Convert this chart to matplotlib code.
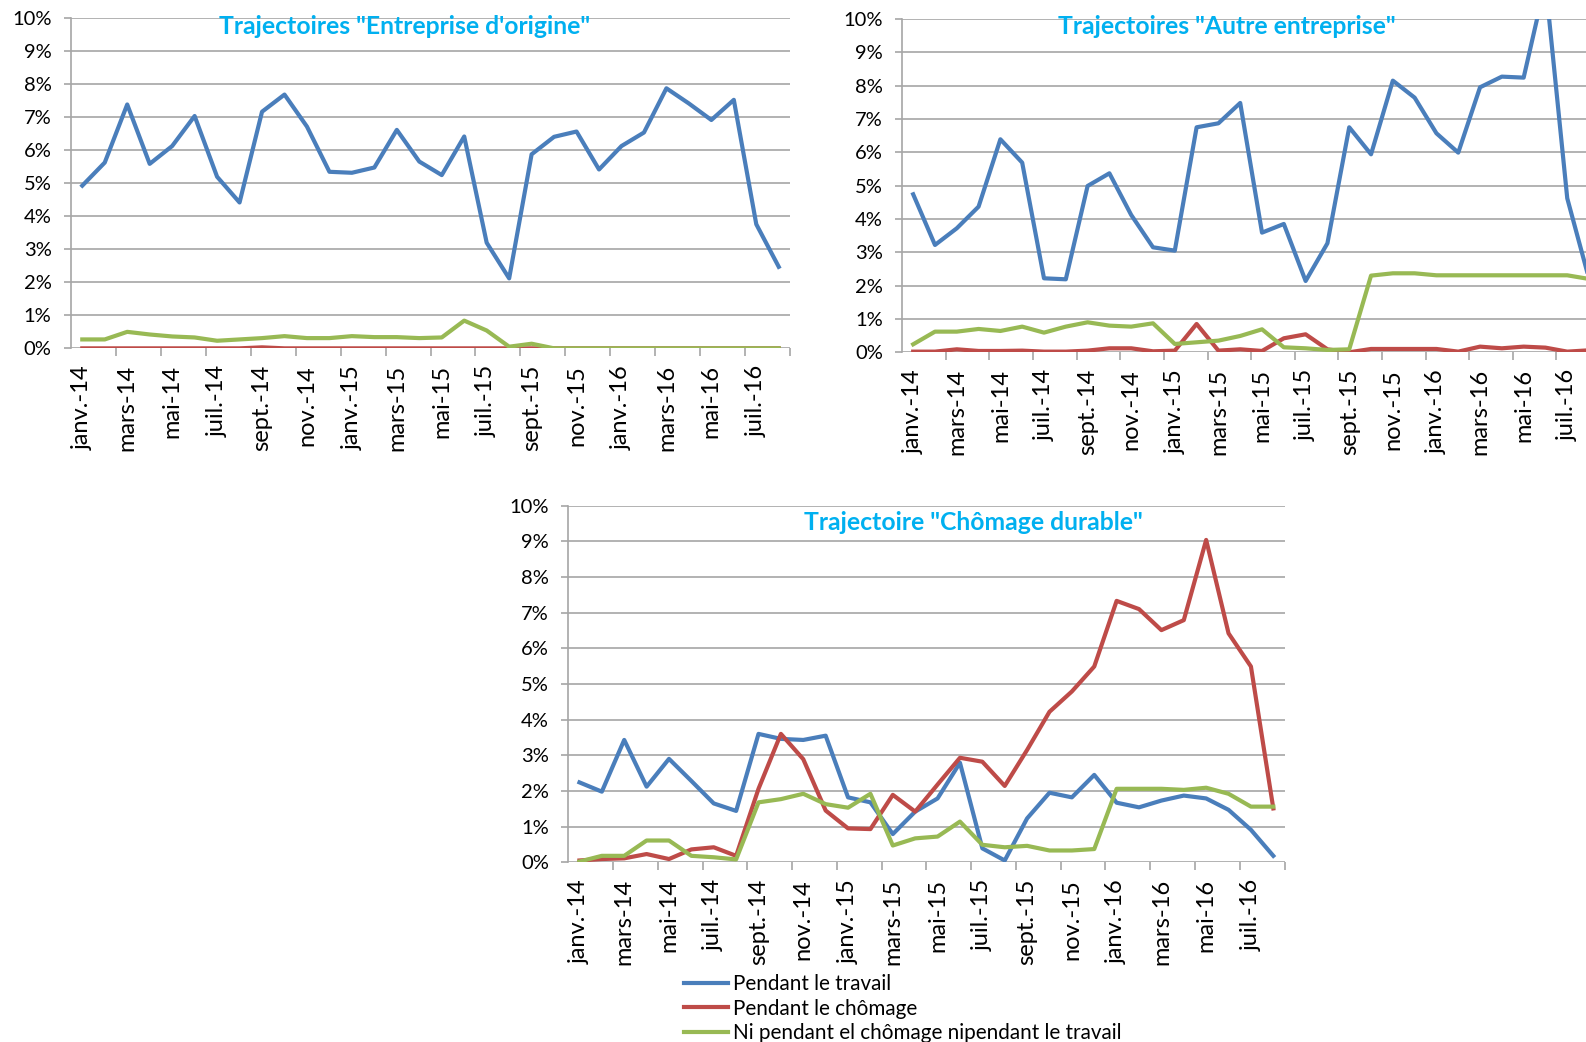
import numpy as np
import matplotlib
matplotlib.use("Agg")
import matplotlib.pyplot as plt
from matplotlib.ticker import FuncFormatter

plt.rcParams['font.family'] = ['Lato', 'DejaVu Sans']

# monthly values in %, janv.-14 .. août-16
orig_travail = [4.93, 5.63, 7.39, 5.59, 6.13, 7.04, 5.20, 4.42, 7.17, 7.69, 6.72, 5.35,
                5.32, 5.48, 6.62, 5.66, 5.25, 6.42, 3.20, 2.12, 5.88, 6.41, 6.57, 5.42,
                6.13, 6.54, 7.88, 7.42, 6.92, 7.53, 3.76, 2.47]
orig_chomage = [0, 0, 0, 0, 0, 0, 0, 0, 0.03, 0, 0, 0,
                0, 0, 0, 0, 0, 0, 0, 0, 0, 0, 0, 0,
                0, 0, 0, 0, 0, 0, 0, 0]
orig_ni = [0.27, 0.27, 0.50, 0.42, 0.36, 0.33, 0.23, 0.27, 0.31, 0.37, 0.31, 0.31,
           0.37, 0.34, 0.34, 0.31, 0.33, 0.84, 0.54, 0.05, 0.14, 0, 0, 0,
           0, 0, 0, 0, 0, 0, 0, 0]

autre_travail = [4.74, 3.22, 3.72, 4.37, 6.39, 5.69, 2.22, 2.19, 4.99, 5.37, 4.12, 3.15,
                 3.05, 6.75, 6.87, 7.48, 3.59, 3.85, 2.14, 3.27, 6.75, 5.94, 8.15, 7.64,
                 6.57, 5.99, 7.95, 8.27, 8.24, 11.1, 4.62, 2.2]
autre_chomage = [0.02, 0.02, 0.09, 0.04, 0.04, 0.05, 0.02, 0.02, 0.05, 0.12, 0.12, 0.03,
                 0.05, 0.85, 0.05, 0.09, 0.04, 0.42, 0.54, 0.09, 0.0, 0.10, 0.10, 0.10,
                 0.10, 0.02, 0.17, 0.12, 0.17, 0.14, 0.02, 0.06]
autre_ni = [0.24, 0.62, 0.62, 0.70, 0.64, 0.77, 0.59, 0.77, 0.90, 0.80, 0.77, 0.87,
            0.25, 0.30, 0.35, 0.49, 0.69, 0.15, 0.12, 0.07, 0.09, 2.30, 2.37, 2.37,
            2.31, 2.31, 2.31, 2.31, 2.31, 2.31, 2.31, 2.2]

dur_travail = [2.24, 1.98, 3.43, 2.12, 2.90, 2.28, 1.65, 1.44, 3.60, 3.46, 3.43, 3.55,
               1.82, 1.68, 0.79, 1.42, 1.79, 2.79, 0.39, 0.05, 1.23, 1.95, 1.82, 2.45,
               1.67, 1.54, 1.73, 1.87, 1.79, 1.47, 0.91, 0.18]
dur_chomage = [0.05, 0.09, 0.11, 0.23, 0.09, 0.36, 0.42, 0.18, 2.06, 3.60, 2.89, 1.45,
               0.95, 0.93, 1.89, 1.42, 2.18, 2.93, 2.82, 2.14, 3.15, 4.22, 4.79, 5.49,
               7.33, 7.10, 6.51, 6.79, 9.04, 6.42, 5.49, 1.51]
dur_ni = [0.02, 0.18, 0.18, 0.61, 0.61, 0.18, 0.14, 0.08, 1.68, 1.77, 1.92, 1.63,
          1.53, 1.92, 0.47, 0.67, 0.72, 1.14, 0.49, 0.42, 0.46, 0.33, 0.33, 0.37,
          2.06, 2.06, 2.06, 2.03, 2.09, 1.92, 1.56, 1.56]

tick_labels = ["janv.-14", "mars-14", "mai-14", "juil.-14", "sept.-14", "nov.-14",
               "janv.-15", "mars-15", "mai-15", "juil.-15", "sept.-15", "nov.-15",
               "janv.-16", "mars-16", "mai-16", "juil.-16"]
series_names = ["Pendant le travail", "Pendant le chômage",
                "Ni pendant el chômage nipendant le travail"]
colors = ["#4a7ebb", "#be4b48", "#98b954"]
grid_col = "#a6a6a6"
title_col = "#00b0f0"

fig = plt.figure(figsize=(15.86, 10.42), dpi=100)


def panel(rect, data):
    ax = fig.add_axes(rect)
    x = np.arange(len(data[0]))
    for vals, c, name in zip(data, colors, series_names):
        ax.plot(x, vals, color=c, lw=3.0, label=name)
    ax.set_xlim(-0.5, 31.5)
    ax.set_ylim(0, 10)
    ax.set_yticks(np.arange(0, 11, 1))
    ax.yaxis.set_major_formatter(FuncFormatter(lambda v, p: "%d%%" % v))
    ax.grid(axis='y', color=grid_col, lw=1.2)
    ax.set_axisbelow(True)
    for s in ['top', 'right', 'bottom']:
        ax.spines[s].set_visible(False)
    ax.spines['left'].set_color(grid_col)
    ax.spines['left'].set_linewidth(1.2)
    ax.set_xticks(np.arange(0, 32, 2))
    ax.set_xticklabels(tick_labels, rotation=90, fontsize=17, color='black')
    ax.set_xticks(np.arange(1.5, 32, 2), minor=True)
    ax.tick_params(axis='x', which='major', length=0, pad=12)
    ax.tick_params(axis='x', which='minor', length=6, color=grid_col, width=1.2)
    ax.tick_params(axis='y', length=5, color=grid_col, width=1.2, pad=9, labelsize=14.5)
    return ax


ax1 = panel([0.0448, 0.6657, 0.4533, 0.3167], [orig_travail, orig_chomage, orig_ni])
ax2 = panel([0.5689, 0.6619, 0.4399, 0.3199], [autre_travail, autre_chomage, autre_ni])
ax3 = panel([0.3583, 0.1725, 0.4516, 0.3422], [dur_travail, dur_chomage, dur_ni])

fig.text(405 / 1586, 1 - 27 / 1042, 'Trajectoires "Entreprise d\'origine"', color=title_col,
         fontsize=17.8, fontweight='bold', ha='center', va='center')
fig.text(1227 / 1586, 1 - 27 / 1042, 'Trajectoires "Autre entreprise"', color=title_col,
         fontsize=17.8, fontweight='bold', ha='center', va='center')
fig.text(973 / 1586, 1 - 523 / 1042, 'Trajectoire "Chômage durable"', color=title_col,
         fontsize=17.8, fontweight='bold', ha='center', va='center')

handles, labels = ax3.get_legend_handles_labels()
fig.legend(handles, labels, loc='upper left', bbox_to_anchor=(684 / 1586, 1 - 974 / 1042),
           frameon=False, fontsize=14.9, handlelength=2.15, handletextpad=0.2,
           labelspacing=0.22, borderpad=0, borderaxespad=0)

fig.savefig("out.png", dpi=100)
